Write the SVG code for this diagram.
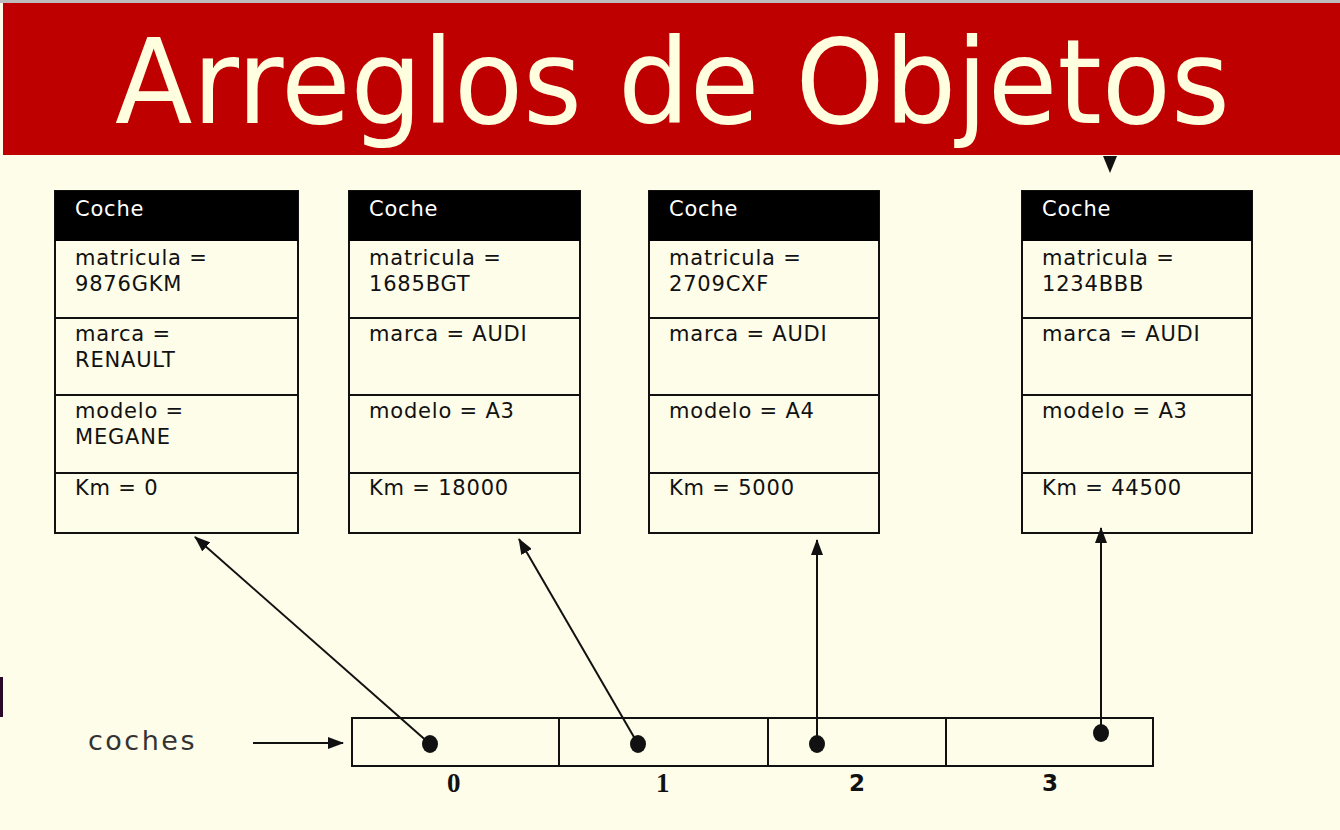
<svg xmlns="http://www.w3.org/2000/svg" width="1340" height="830" viewBox="0 0 1340 830">
<style>
.box{fill:#FDFDEA;stroke:#111;stroke-width:2}
.hdr{fill:#000}
.div{stroke:#111;stroke-width:2}
.t{font-family:"DejaVu Sans",sans-serif;font-size:21px;fill:#111;letter-spacing:0.8px}
.th{font-family:"DejaVu Sans",sans-serif;font-size:21px;fill:#fff;letter-spacing:0.8px}
.con{stroke:#111;stroke-width:2;fill:none}
.idxs{font-family:"Liberation Serif",serif;font-weight:bold;font-size:27px;fill:#111}
.idx{font-family:"DejaVu Sans",sans-serif;font-weight:bold;font-size:23px;fill:#111}
</style>
<defs>
<marker id="ah" viewBox="0 0 16 12" refX="15" refY="6" markerWidth="16" markerHeight="12" markerUnits="userSpaceOnUse" orient="auto">
<path d="M0,0 L16,6 L0,12 Z" fill="#111"/>
</marker>
</defs>
<rect x="0" y="0" width="1340" height="830" fill="#FDFDEA"/>
<rect x="0" y="0" width="1340" height="3" fill="#BDBDBD"/>
<rect x="0" y="677" width="3" height="40" fill="#2a0a2a"/>
<g id="title">
<rect x="3" y="3" width="1337" height="152" fill="#BF0000"/>
<text x="115" y="123" font-family="DejaVu Sans,sans-serif" font-size="118" fill="#FFFFE0" textLength="1115" lengthAdjust="spacingAndGlyphs">Arreglos de Objetos</text>
</g>
<path d="M1103,156 L1117,156 L1110,173 Z" fill="#111"/>
<g id="coche0">
<rect class="box" x="55" y="191" width="243" height="342"/>
<rect class="hdr" x="55" y="191" width="243" height="50"/>
<line class="div" x1="55" y1="318" x2="298" y2="318"/>
<line class="div" x1="55" y1="395" x2="298" y2="395"/>
<line class="div" x1="55" y1="473" x2="298" y2="473"/>
<text class="th" x="75" y="216">Coche</text>
<text class="t" x="75" y="265">matricula =</text>
<text class="t" x="75" y="291">9876GKM</text>
<text class="t" x="75" y="341">marca =</text>
<text class="t" x="75" y="367">RENAULT</text>
<text class="t" x="75" y="418">modelo =</text>
<text class="t" x="75" y="444">MEGANE</text>
<text class="t" x="75" y="495">Km = 0</text>
</g>
<g id="coche1">
<rect class="box" x="349" y="191" width="231" height="342"/>
<rect class="hdr" x="349" y="191" width="231" height="50"/>
<line class="div" x1="349" y1="318" x2="580" y2="318"/>
<line class="div" x1="349" y1="395" x2="580" y2="395"/>
<line class="div" x1="349" y1="473" x2="580" y2="473"/>
<text class="th" x="369" y="216">Coche</text>
<text class="t" x="369" y="265">matricula =</text>
<text class="t" x="369" y="291">1685BGT</text>
<text class="t" x="369" y="341">marca = AUDI</text>
<text class="t" x="369" y="418">modelo = A3</text>
<text class="t" x="369" y="495">Km = 18000</text>
</g>
<g id="coche2">
<rect class="box" x="649" y="191" width="230" height="342"/>
<rect class="hdr" x="649" y="191" width="230" height="50"/>
<line class="div" x1="649" y1="318" x2="879" y2="318"/>
<line class="div" x1="649" y1="395" x2="879" y2="395"/>
<line class="div" x1="649" y1="473" x2="879" y2="473"/>
<text class="th" x="669" y="216">Coche</text>
<text class="t" x="669" y="265">matricula =</text>
<text class="t" x="669" y="291">2709CXF</text>
<text class="t" x="669" y="341">marca = AUDI</text>
<text class="t" x="669" y="418">modelo = A4</text>
<text class="t" x="669" y="495">Km = 5000</text>
</g>
<g id="coche3">
<rect class="box" x="1022" y="191" width="230" height="342"/>
<rect class="hdr" x="1022" y="191" width="230" height="50"/>
<line class="div" x1="1022" y1="318" x2="1252" y2="318"/>
<line class="div" x1="1022" y1="395" x2="1252" y2="395"/>
<line class="div" x1="1022" y1="473" x2="1252" y2="473"/>
<text class="th" x="1042" y="216">Coche</text>
<text class="t" x="1042" y="265">matricula =</text>
<text class="t" x="1042" y="291">1234BBB</text>
<text class="t" x="1042" y="341">marca = AUDI</text>
<text class="t" x="1042" y="418">modelo = A3</text>
<text class="t" x="1042" y="495">Km = 44500</text>
</g>
<g id="array">
<rect class="box" x="352" y="718" width="801" height="48"/>
<line class="div" x1="559" y1="718" x2="559" y2="766"/>
<line class="div" x1="768" y1="718" x2="768" y2="766"/>
<line class="div" x1="946" y1="718" x2="946" y2="766"/>
<text class="idxs" x="447" y="792">0</text>
<text class="idxs" x="656" y="792">1</text>
<text class="idx" x="849" y="791">2</text>
<text class="idx" x="1042" y="791">3</text>
</g>
<g id="coches">
<text x="88" y="750" font-family="DejaVu Sans,sans-serif" font-size="27" fill="#333" letter-spacing="2.5">coches</text>
</g>
<g id="connectors">
<line class="con" x1="253" y1="743" x2="343" y2="743" marker-end="url(#ah)"/>
<line class="con" x1="430" y1="744" x2="195" y2="537" marker-end="url(#ah)"/>
<line class="con" x1="638" y1="744" x2="519" y2="539" marker-end="url(#ah)"/>
<line class="con" x1="817" y1="744" x2="817" y2="540" marker-end="url(#ah)"/>
<line class="con" x1="1101" y1="733" x2="1101" y2="528" marker-end="url(#ah)"/>
<ellipse cx="430" cy="744" rx="8" ry="9" fill="#111"/>
<ellipse cx="638" cy="744" rx="8" ry="9" fill="#111"/>
<ellipse cx="817" cy="744" rx="8" ry="9" fill="#111"/>
<ellipse cx="1101" cy="733" rx="8" ry="9" fill="#111"/>
</g>
</svg>
